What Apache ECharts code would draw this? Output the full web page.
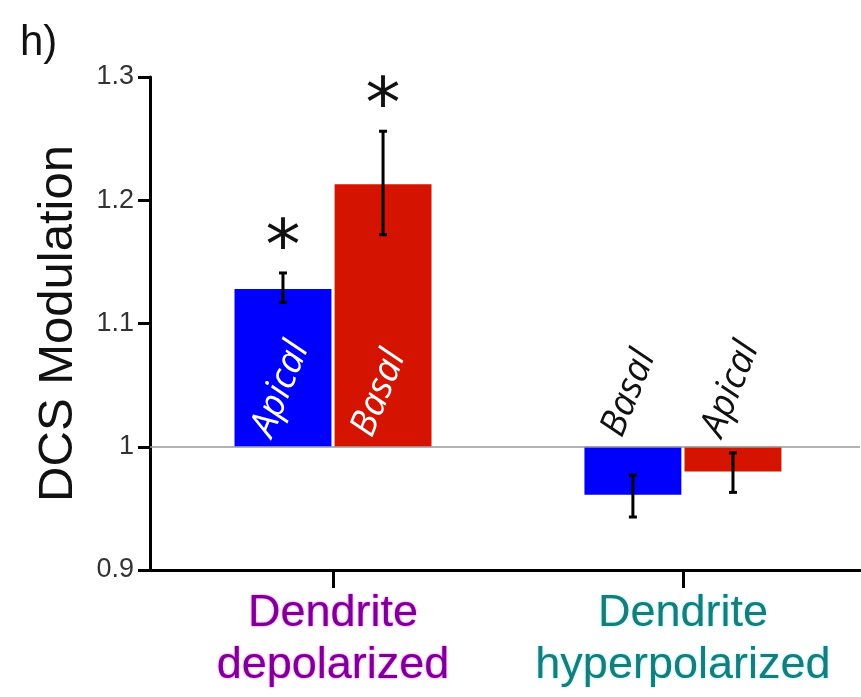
<!DOCTYPE html>
<html>
<head>
<meta charset="utf-8">
<script src="https://cdn.jsdelivr.net/npm/echarts@6/dist/echarts.min.js"></script>
<style>
html,body{margin:0;padding:0;background:#fff;}
#chart{width:861px;height:697px;}
</style>
</head>
<body>
<div id="chart"></div>
<script>
// ---- data ----
const categories = ['Dendrite\ndepolarized', 'Dendrite\nhyperpolarized'];
const categoryColors = ['#7d0096', '#1d7a7a'];
const categoryGlow = ['#ff30ff', '#40ffff'];
const yTicks = [0.9, 1, 1.1, 1.2, 1.3];

const blueLabels = ['Apical', 'Basal'];
const blueValues = [1.128, 0.961];
const blueErrLow = [1.117, 0.943];
const blueErrHigh = [1.141, 0.977];
const blueSig = [true, false];

const redLabels = ['Basal', 'Apical'];
const redValues = [1.213, 0.980];
const redErrLow = [1.172, 0.963];
const redErrHigh = [1.256, 0.995];
const redSig = [true, false];

const baseline = 1;

// ---- chart ----
const chart = echarts.init(document.getElementById('chart'), null, {renderer: 'canvas'});

function makeRender(color, offset, labels, lows, highs, sigs, insideLabelColor) {
  return function (params, api) {
    const i = params.dataIndex;
    const gx = api.value(0) + offset;
    const v = api.value(1);
    const base = api.coord([gx, baseline]);
    const top = api.coord([gx, v]);
    const w = api.size([0.277, 0])[0];
    const lo = api.coord([gx, lows[i]]);
    const hi = api.coord([gx, highs[i]]);
    const children = [];
    children.push({
      type: 'rect',
      shape: {x: base[0] - w / 2, y: Math.min(base[1], top[1]), width: w, height: Math.abs(top[1] - base[1])},
      style: {fill: color}
    });
    children.push({
      type: 'line', shape: {x1: lo[0], y1: lo[1], x2: hi[0], y2: hi[1]},
      style: {stroke: '#000', lineWidth: 3}
    });
    children.push({
      type: 'line', shape: {x1: hi[0] - 4, y1: hi[1], x2: hi[0] + 4, y2: hi[1]},
      style: {stroke: '#000', lineWidth: 3}
    });
    children.push({
      type: 'line', shape: {x1: lo[0] - 4, y1: lo[1], x2: lo[0] + 4, y2: lo[1]},
      style: {stroke: '#000', lineWidth: 3}
    });
    const inside = v > baseline;
    children.push({
      type: 'text',
      x: base[0] - 21, y: base[1] - 12,
      rotation: 68 * Math.PI / 180,
      style: {
        text: labels[i], fill: inside ? insideLabelColor : '#111',
        font: 'italic 37px "Open Sans"', align: 'left', verticalAlign: 'middle'
      }
    });
    if (sigs[i]) {
      children.push({
        type: 'text', x: hi[0], y: hi[1] - 22,
        style: {text: '*', fill: '#111', font: '70px "DejaVu Sans"', align: 'center', verticalAlign: 'middle'}
      });
    }
    return {type: 'group', children: children};
  };
}

const xPos = categories.map((c, i) => i + 1);

const option = {
  backgroundColor: '#fff',
  animation: false,
  grid: {left: 150, right: 1, top: 77, bottom: 127, containLabel: false},
  xAxis: {
    type: 'value', min: 0.477, max: 2.506,
    splitLine: {show: false},
    axisLine: {show: true, lineStyle: {color: '#000', width: 3}},
    axisTick: {show: true, customValues: xPos, length: 18, lineStyle: {color: '#000', width: 3}},
    axisLabel: {
      show: true, customValues: xPos, margin: 18,
      formatter: function (val) {
        const idx = Math.round(val) - 1;
        const parts = categories[idx].split('\n');
        const k = 'c' + idx;
        return parts.map(p => '{' + k + '|' + p + '}').join('\n');
      },
      rich: {
        c0: {color: categoryColors[0], fontSize: 45, lineHeight: 52, fontFamily: 'Liberation Sans', textShadowColor: categoryGlow[0], textShadowBlur: 2},
        c1: {color: categoryColors[1], fontSize: 45, lineHeight: 52, fontFamily: 'Liberation Sans', textShadowColor: categoryGlow[1], textShadowBlur: 2}
      }
    }
  },
  yAxis: {
    type: 'value', min: yTicks[0], max: yTicks[yTicks.length - 1], interval: 0.1,
    name: 'DCS Modulation', nameLocation: 'middle', nameGap: 67,
    nameTextStyle: {fontSize: 49, color: '#111', fontFamily: 'Liberation Sans'},
    splitLine: {show: false},
    axisLine: {show: true, lineStyle: {color: '#000', width: 3}},
    axisTick: {show: true, inside: false, length: 12, lineStyle: {color: '#000', width: 3}},
    axisLabel: {
      fontSize: 27, color: '#333', fontFamily: 'Liberation Sans', margin: 16,
      formatter: function (v) { return String(Math.round(v * 10) / 10); }
    }
  },
  graphic: [{
    type: 'text', left: 20, top: 22,
    style: {text: 'h)', font: '42px "Liberation Sans"', fill: '#111'}
  }],
  series: [
    {
      type: 'custom', name: 'blue',
      renderItem: makeRender('#0000ff', -0.143, blueLabels, blueErrLow, blueErrHigh, blueSig, '#fff'),
      data: xPos.map((x, i) => [x, blueValues[i]]),
      markLine: {
        silent: true, symbol: 'none', label: {show: false},
        lineStyle: {color: '#999', width: 1.5, type: 'solid'},
        data: [{yAxis: baseline}]
      },
      z: 3
    },
    {
      type: 'custom', name: 'red',
      renderItem: makeRender('#d41400', 0.143, redLabels, redErrLow, redErrHigh, redSig, '#fff'),
      data: xPos.map((x, i) => [x, redValues[i]]),
      z: 3
    }
  ]
};
chart.setOption(option);
</script>
</body>
</html>
